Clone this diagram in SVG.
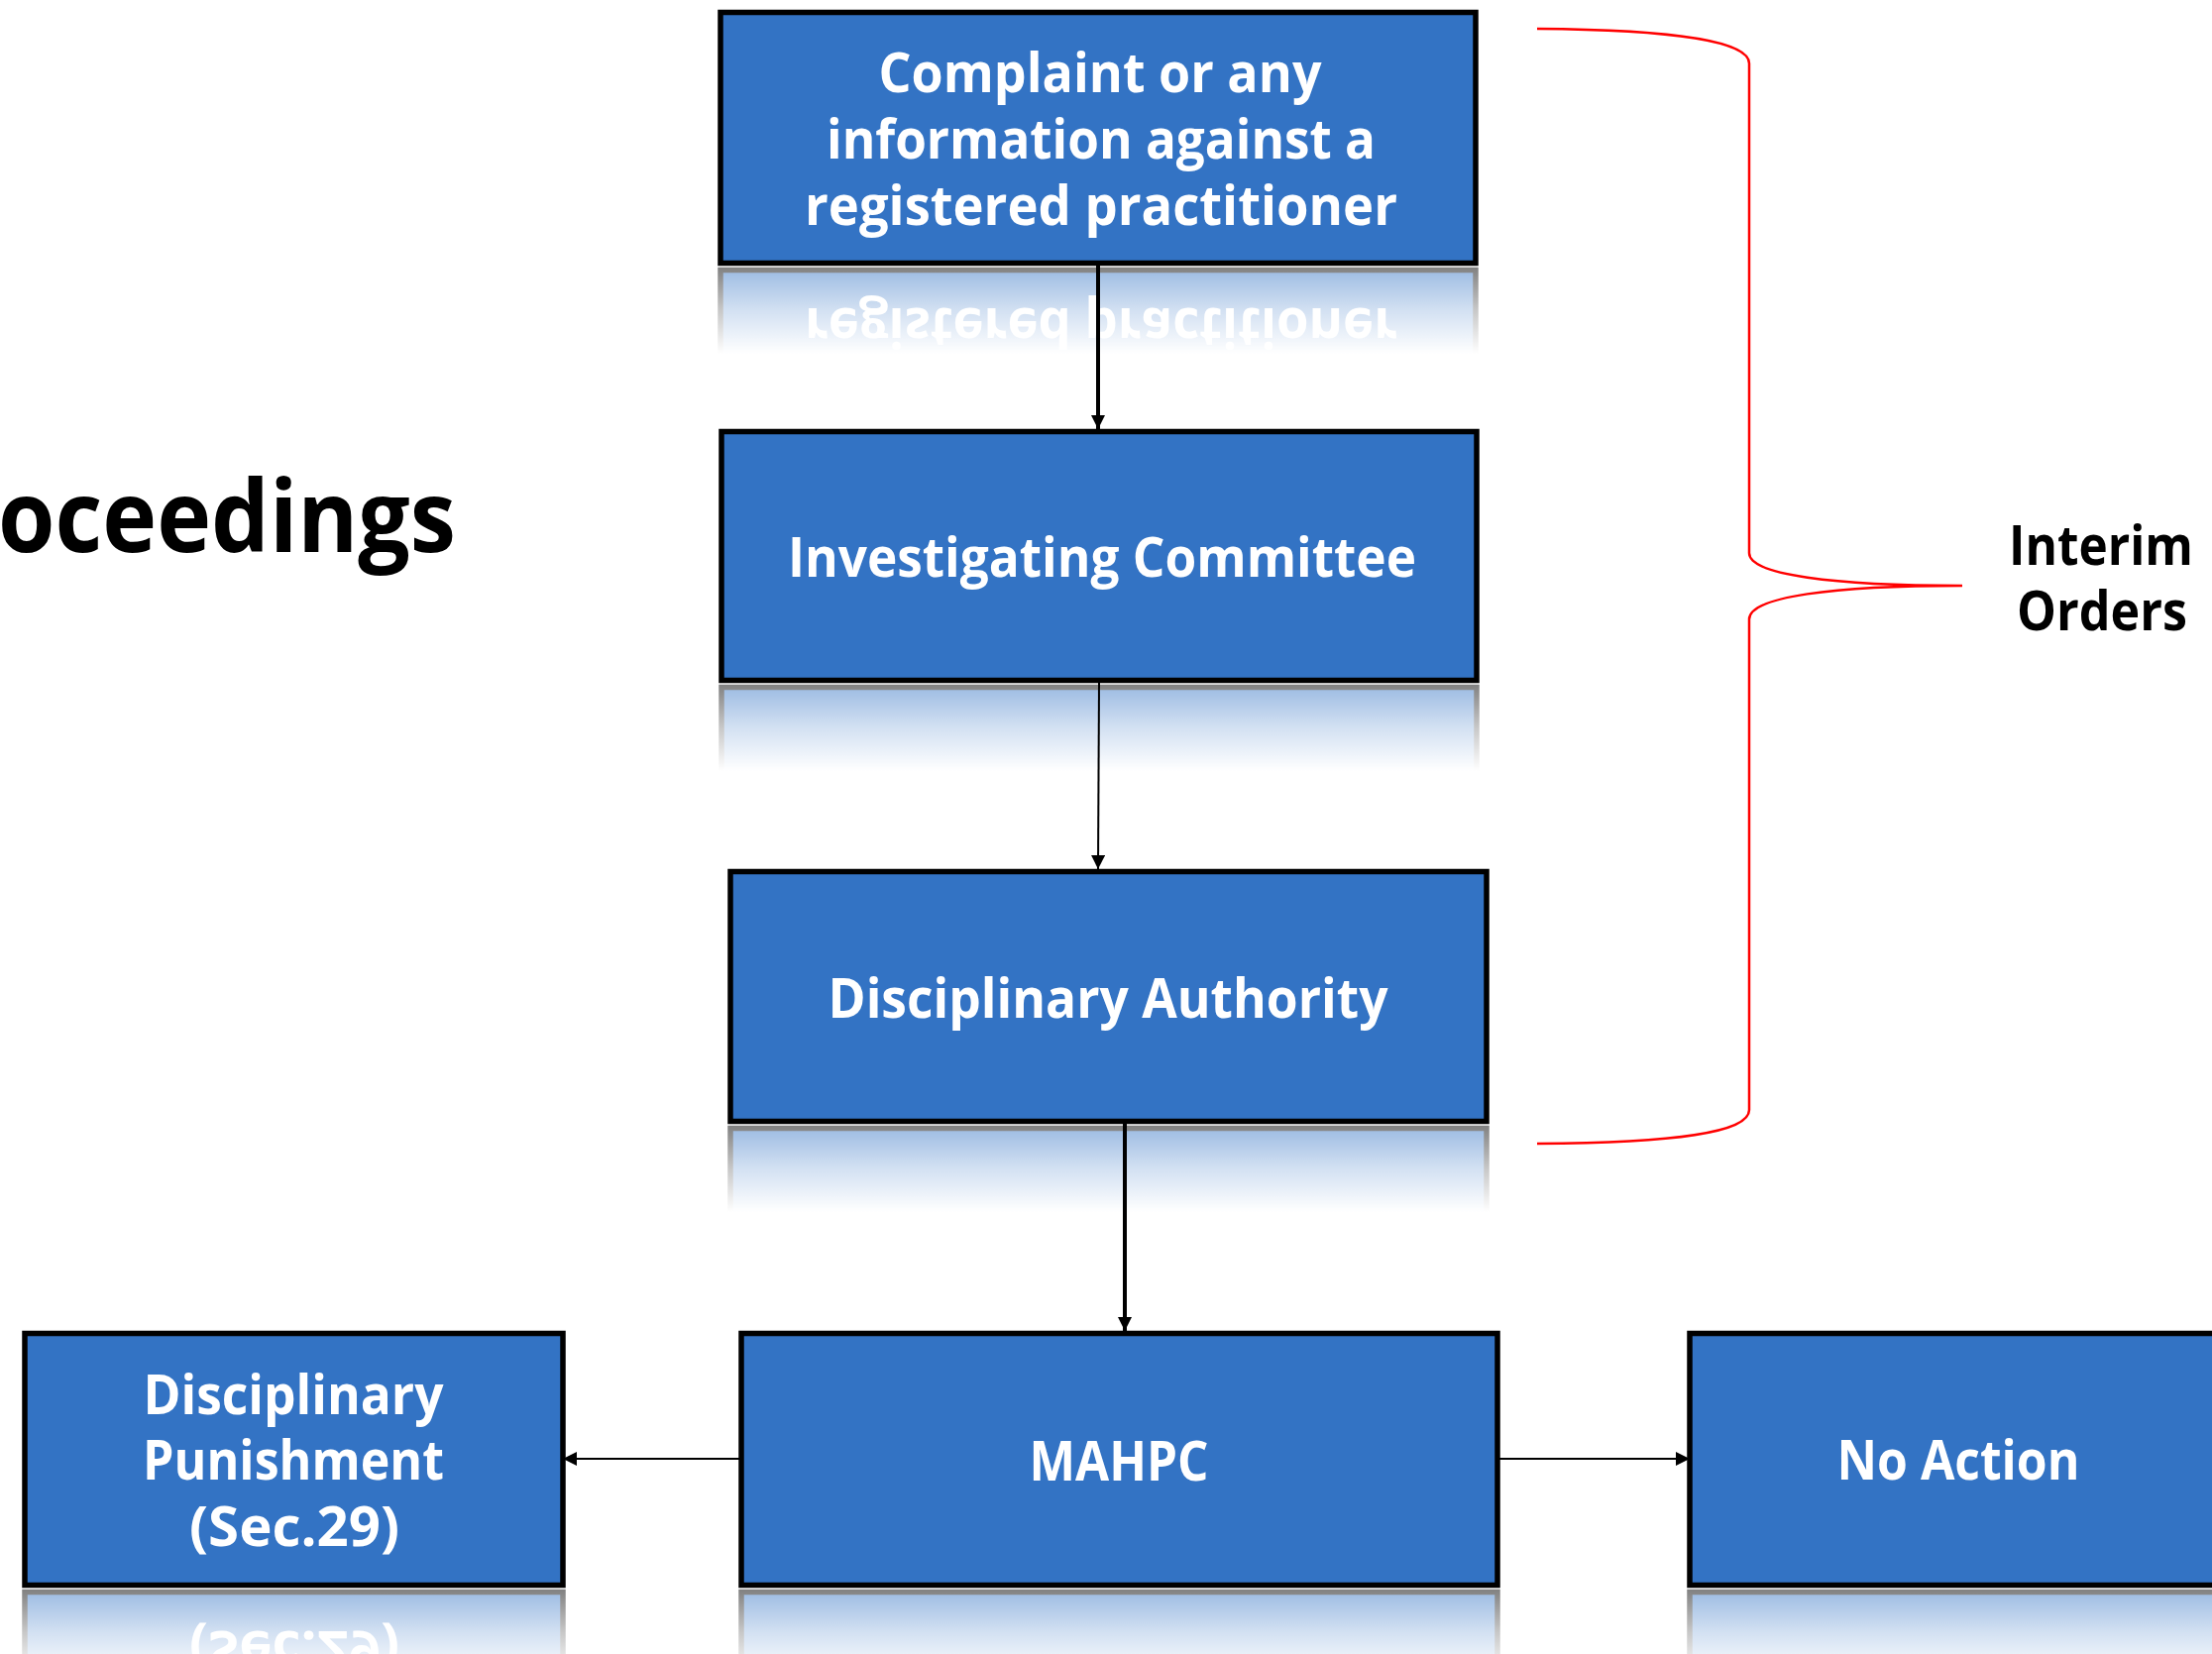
<svg xmlns="http://www.w3.org/2000/svg" xmlns:xlink="http://www.w3.org/1999/xlink" width="2232" height="1669" viewBox="0 0 2232 1669">
  <style>
    .box { fill: #3373C4; stroke: #000000; stroke-width: 5.5; }
    .lbl { font-family: "Open Sans", "Noto Sans", "DejaVu Sans", sans-serif; font-weight: 700; font-size: 56px; fill: #FFFFFF; text-anchor: middle; }
    .side { font-family: "Open Sans", "Noto Sans", "DejaVu Sans", sans-serif; font-weight: 700; font-size: 55px; fill: #000000; text-anchor: middle; }
    .title { font-family: "Open Sans", "Noto Sans", "DejaVu Sans", sans-serif; font-weight: 700; font-size: 100px; fill: #000000; }
    .conn { fill: none; stroke: #000000; }
    .thick { stroke-width: 4; }
    .thin { stroke-width: 2; }
    .brace { fill: none; stroke: #FF0000; stroke-width: 2.5; }
  </style>
  <defs>
    <linearGradient id="fade" x1="0" y1="0" x2="0" y2="1">
      <stop offset="0" stop-color="#FFFFFF" stop-opacity="0.5"/>
      <stop offset="0.5" stop-color="#FFFFFF" stop-opacity="0.22"/>
      <stop offset="1" stop-color="#FFFFFF" stop-opacity="0"/>
    </linearGradient>
    <mask id="m1" maskUnits="userSpaceOnUse" x="0" y="269" width="2232" height="88">
      <rect x="0" y="269" width="2232" height="88" fill="url(#fade)"/>
    </mask>
    <mask id="m2" maskUnits="userSpaceOnUse" x="0" y="690" width="2232" height="88">
      <rect x="0" y="690" width="2232" height="88" fill="url(#fade)"/>
    </mask>
    <mask id="m3" maskUnits="userSpaceOnUse" x="0" y="1135" width="2232" height="88">
      <rect x="0" y="1135" width="2232" height="88" fill="url(#fade)"/>
    </mask>
    <mask id="m4" maskUnits="userSpaceOnUse" x="0" y="1603" width="2232" height="88">
      <rect x="0" y="1603" width="2232" height="88" fill="url(#fade)"/>
    </mask>
    <marker id="arrow" viewBox="0 0 10 10" refX="10" refY="5" markerWidth="14" markerHeight="14" markerUnits="userSpaceOnUse" orient="auto">
      <path d="M0,0 L10,5 L0,10 Z" fill="#000000"/>
    </marker>
  </defs>

  <rect x="0" y="0" width="2232" height="1669" fill="#FFFFFF"/>

  <g id="title">
    <text class="title" x="-2" y="557" textLength="462" lengthAdjust="spacingAndGlyphs">oceedings</text>
  </g>

  <g id="node-complaint">
    <g id="shape-complaint">
      <rect class="box" x="727" y="12.5" width="762" height="253"/>
      <text class="lbl"><tspan x="1110" y="93" textLength="447" lengthAdjust="spacingAndGlyphs">Complaint or any</tspan><tspan x="1111" y="160" textLength="554" lengthAdjust="spacingAndGlyphs">information against a</tspan><tspan x="1111" y="227" textLength="598" lengthAdjust="spacingAndGlyphs">registered practitioner</tspan></text>
    </g>
    <g mask="url(#m1)">
      <use xlink:href="#shape-complaint" href="#shape-complaint" transform="matrix(1 0 0 -1 0 538)"/>
    </g>
  </g>

  <g id="node-investigating">
    <g id="shape-investigating">
      <rect class="box" x="728" y="435.5" width="762" height="251"/>
      <text class="lbl" x="1112" y="582" textLength="634" lengthAdjust="spacingAndGlyphs">Investigating Committee</text>
    </g>
    <g mask="url(#m2)">
      <use xlink:href="#shape-investigating" href="#shape-investigating" transform="matrix(1 0 0 -1 0 1380)"/>
    </g>
  </g>

  <g id="node-authority">
    <g id="shape-authority">
      <rect class="box" x="737" y="879.5" width="763" height="252"/>
      <text class="lbl" x="1118" y="1027" textLength="565" lengthAdjust="spacingAndGlyphs">Disciplinary Authority</text>
    </g>
    <g mask="url(#m3)">
      <use xlink:href="#shape-authority" href="#shape-authority" transform="matrix(1 0 0 -1 0 2270)"/>
    </g>
  </g>

  <g id="node-mahpc">
    <g id="shape-mahpc">
      <rect class="box" x="748" y="1345.5" width="763" height="254"/>
      <text class="lbl" x="1129" y="1494" textLength="181" lengthAdjust="spacingAndGlyphs">MAHPC</text>
    </g>
    <g mask="url(#m4)">
      <use xlink:href="#shape-mahpc" href="#shape-mahpc" transform="matrix(1 0 0 -1 0 3206)"/>
    </g>
  </g>

  <g id="node-punishment">
    <g id="shape-punishment">
      <rect class="box" x="25" y="1345.5" width="543" height="254"/>
      <text class="lbl"><tspan x="296" y="1427" textLength="303" lengthAdjust="spacingAndGlyphs">Disciplinary</tspan><tspan x="296" y="1493" textLength="304" lengthAdjust="spacingAndGlyphs">Punishment</tspan><tspan x="297" y="1560" textLength="212" lengthAdjust="spacingAndGlyphs">(Sec.29)</tspan></text>
    </g>
    <g mask="url(#m4)">
      <use xlink:href="#shape-punishment" href="#shape-punishment" transform="matrix(1 0 0 -1 0 3206)"/>
    </g>
  </g>

  <g id="node-noaction">
    <g id="shape-noaction">
      <rect class="box" x="1705" y="1345.5" width="543" height="254"/>
      <text class="lbl" x="1976" y="1493" textLength="245" lengthAdjust="spacingAndGlyphs">No Action</text>
    </g>
    <g mask="url(#m4)">
      <use xlink:href="#shape-noaction" href="#shape-noaction" transform="matrix(1 0 0 -1 0 3206)"/>
    </g>
  </g>

  <g id="interim-orders">
    <path class="brace" d="M1551,29 C1690,30 1765,42 1765,64 L1765,558 C1765,580 1850,591 1980,591 C1850,591 1765,602 1765,625 L1765,1120 C1765,1143 1690,1153 1551,1154"/>
    <text class="side"><tspan x="2120" y="570" textLength="186" lengthAdjust="spacingAndGlyphs">Interim</tspan><tspan x="2121" y="636" textLength="172" lengthAdjust="spacingAndGlyphs">Orders</tspan></text>
  </g>

  <g id="connectors">
    <line class="conn thick" x1="1108" y1="266" x2="1108" y2="433" marker-end="url(#arrow)"/>
    <line class="conn thin" x1="1109" y1="689" x2="1108" y2="877" marker-end="url(#arrow)"/>
    <line class="conn thick" x1="1135" y1="1133" x2="1135" y2="1343" marker-end="url(#arrow)"/>
    <line class="conn thin" x1="748" y1="1472" x2="568" y2="1472" marker-end="url(#arrow)"/>
    <line class="conn thin" x1="1511" y1="1472" x2="1705" y2="1472" marker-end="url(#arrow)"/>
  </g>
</svg>
